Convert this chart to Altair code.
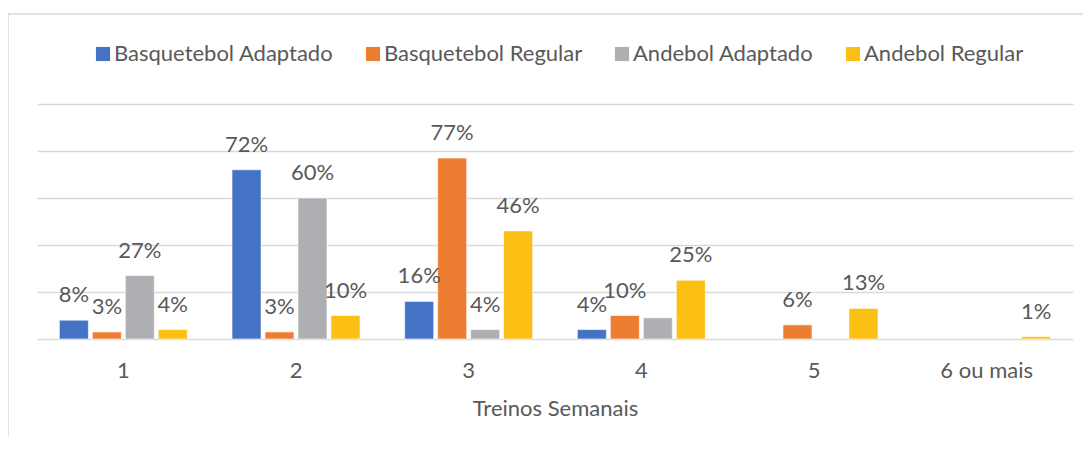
import altair as alt
import pandas as pd

categories = ["1", "2", "3", "4", "5", "6 ou mais"]
series = ["Basquetebol Adaptado", "Basquetebol Regular", "Andebol Adaptado", "Andebol Regular"]
colors = ["#4472C4", "#ED7D31", "#AEAFB2", "#FCBF14"]

basq_adapt = [8, 72, 16, 4, None, None]
basq_reg = [3, 3, 77, 10, 6, None]
andeb_adapt = [27, 60, 4, 9, None, None]
andeb_reg = [4, 10, 46, 25, 13, 1]

# labels as printed on the chart ("" = no label shown)
lab_basq_adapt = ["8%", "72%", "16%", "4%", "", ""]
lab_basq_reg = ["3%", "3%", "77%", "10%", "6%", ""]
lab_andeb_adapt = ["27%", "60%", "4%", "", "", ""]
lab_andeb_reg = ["4%", "10%", "46%", "25%", "13%", "1%"]

rows = []
for s, vals, labs in zip(series,
                         [basq_adapt, basq_reg, andeb_adapt, andeb_reg],
                         [lab_basq_adapt, lab_basq_reg, lab_andeb_adapt, lab_andeb_reg]):
    for c, v, l in zip(categories, vals, labs):
        if v is not None:
            rows.append({"Treinos": c, "Serie": s, "Valor": v, "Label": l})
df = pd.DataFrame(rows)

FONT = "Lato"
TXT = "#595959"

x_axis = alt.Axis(title="Treinos Semanais", labelAngle=0, ticks=False, tickSize=0,
                  domain=False, grid=False, labelPadding=21, titlePadding=17,
                  labelFontSize=22, titleFontSize=22, labelColor=TXT,
                  titleColor=TXT, labelFont=FONT, titleFont=FONT,
                  titleFontWeight="normal")
y_axis = alt.Axis(title=None, values=[0, 20, 40, 60, 80, 100], labels=False,
                  ticks=False, domain=False, grid=True, gridColor="#D9D9D9",
                  gridWidth=1.5)

x_enc = alt.X("Treinos:N", sort=categories,
              scale=alt.Scale(paddingInner=0.236, paddingOuter=0.118), axis=x_axis)
xoff = alt.XOffset("Serie:N", sort=series,
                   scale=alt.Scale(paddingInner=0.12, paddingOuter=0.06))
y_enc = alt.Y("Valor:Q", scale=alt.Scale(domain=[0, 100], nice=False), axis=y_axis)
color_enc = alt.Color("Serie:N", sort=series,
                      scale=alt.Scale(domain=series, range=colors),
                      legend=alt.Legend(title=None, orient="none", direction="horizontal",
                                        legendX=55, legendY=-61, symbolType="square",
                                        symbolSize=200, symbolStrokeWidth=0,
                                        labelFontSize=22, labelFont=FONT, labelColor=TXT,
                                        labelOffset=0, columnPadding=28,
                                        labelLimit=400))

bars = alt.Chart(df).mark_bar(stroke="white", strokeWidth=0.6).encode(
    x=x_enc, xOffset=xoff, y=y_enc, color=color_enc
)

labels = alt.Chart(df).mark_text(font=FONT, fontSize=22, color=TXT, baseline="middle",
                                 dy=-25).encode(
    x=x_enc, xOffset=xoff, y=y_enc, text="Label:N"
)

frame = alt.Chart(pd.DataFrame({"k": [0]})).mark_rect(
    fill=None, stroke="#D9D9D9", strokeWidth=1.5
).encode(x=alt.value(-29), x2=alt.value(1200), y=alt.value(-90), y2=alt.value(600))

chart = alt.layer(frame, bars, labels).properties(
    width=1036, height=235,
    autosize=alt.AutoSizeParams(type="none"),
    padding={"left": 29, "top": 96, "right": 10, "bottom": 98},
    background="white",
).configure_view(strokeWidth=0, stroke="transparent")

chart.save("out.html", embed_options={"renderer": "svg", "actions": False})
